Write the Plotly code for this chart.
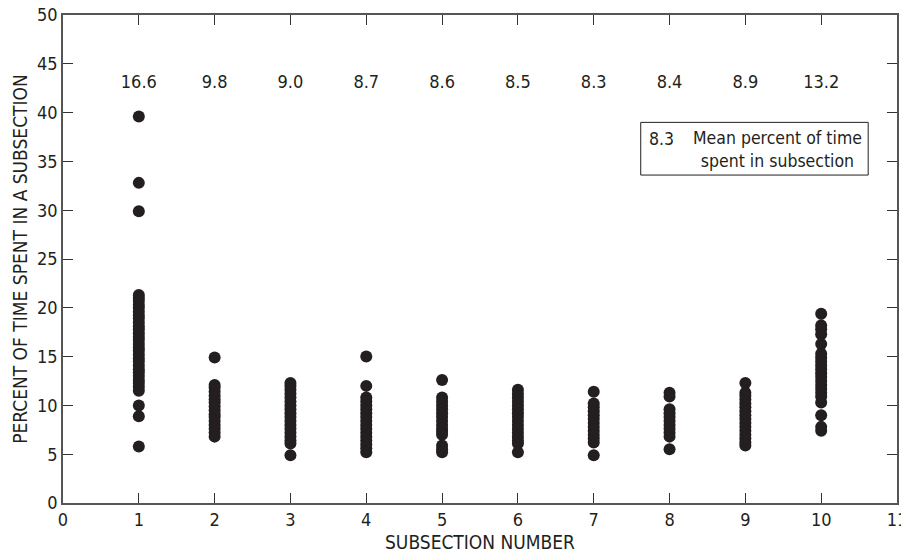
import plotly.graph_objects as go

# ---- data ----
subsections = [1, 2, 3, 4, 5, 6, 7, 8, 9, 10]
pct_s1 = [39.6, 32.8, 29.9, 21.3, 21.0, 20.7, 20.3, 20.0, 19.6, 19.2, 18.9, 18.5, 18.1,
          17.8, 17.4, 17.0, 16.7, 16.3, 15.9, 15.6, 15.2, 14.8, 14.5, 14.1, 13.7, 13.4,
          13.0, 12.6, 12.3, 11.9, 11.5, 10.0, 8.9, 5.8]
pct_s2 = [14.9, 12.1, 11.8, 11.4, 11.0, 10.6, 10.3, 9.9, 9.5, 9.1, 8.8, 8.4, 8.0, 7.6, 7.2, 6.8]
pct_s3 = [12.3, 12.0, 11.6, 11.2, 10.8, 10.4, 10.0, 9.6, 9.2, 8.8, 8.4, 8.0, 7.6, 7.2, 6.8,
          6.4, 6.1, 4.9]
pct_s4 = [15.0, 12.0, 10.8, 10.4, 10.0, 9.6, 9.2, 8.8, 8.4, 8.0, 7.6, 7.2, 6.8, 6.4, 6.0, 5.6, 5.2]
pct_s5 = [12.6, 10.8, 10.4, 10.0, 9.6, 9.2, 8.8, 8.4, 8.0, 7.6, 7.3, 7.0, 5.9, 5.5, 5.2]
pct_s6 = [11.6, 11.2, 10.8, 10.4, 10.0, 9.6, 9.2, 8.8, 8.4, 8.0, 7.6, 7.2, 6.8, 6.4, 6.1, 5.2]
pct_s7 = [11.4, 10.2, 9.8, 9.4, 9.0, 8.6, 8.2, 7.8, 7.4, 7.0, 6.6, 6.2, 4.9]
pct_s8 = [11.3, 10.9, 9.6, 9.2, 8.8, 8.4, 8.0, 7.6, 7.2, 6.8, 5.5]
pct_s9 = [12.3, 11.3, 11.0, 10.6, 10.2, 9.8, 9.4, 9.0, 8.6, 8.2, 7.8, 7.4, 7.0, 6.6, 6.2, 5.9]
pct_s10 = [19.4, 18.2, 17.8, 17.3, 16.3, 15.3, 14.9, 14.5, 14.1, 13.7, 13.3, 12.9, 12.5,
           12.1, 11.7, 11.3, 10.9, 10.3, 9.0, 7.8, 7.4]
mean_labels = ["16.6", "9.8", "9.0", "8.7", "8.6", "8.5", "8.3", "8.4", "8.9", "13.2"]
x_ticks = [0, 1, 2, 3, 4, 5, 6, 7, 8, 9, 10, 11]
y_ticks = [0, 5, 10, 15, 20, 25, 30, 35, 40, 45, 50]

columns = [pct_s1, pct_s2, pct_s3, pct_s4, pct_s5, pct_s6, pct_s7, pct_s8, pct_s9, pct_s10]
xs, ys = [], []
for s, col in zip(subsections, columns):
    xs.extend([s] * len(col))
    ys.extend(col)

FONT = "Liberation Sans Narrow, DejaVu Sans Condensed, Roboto Condensed, Arial Narrow, sans-serif"
INK = "#231f20"

fig = go.Figure()
fig.add_trace(go.Scatter(
    x=xs, y=ys, mode="markers",
    marker=dict(size=12, color=INK, line=dict(width=0)),
    hoverinfo="x+y", showlegend=False))
fig.add_trace(go.Scatter(
    x=subsections, y=[43.0] * len(subsections), mode="text", text=mean_labels,
    textposition="middle center", textfont=dict(family=FONT, size=18, color=INK),
    hoverinfo="skip", showlegend=False))

# legend box (explanation)
fig.add_shape(type="rect", xref="x", yref="y", x0=7.62, x1=10.62, y0=33.6, y1=39.0,
              line=dict(color=INK, width=1), fillcolor="white", layer="below")
fig.add_annotation(x=7.70, y=37.3, xref="x", yref="y", text="8.3", showarrow=False,
                   xanchor="left", yanchor="middle", font=dict(family=FONT, size=17.5, color=INK))
fig.add_annotation(x=9.42, y=36.25, xref="x", yref="y",
                   text="Mean percent of time<br>spent in subsection", showarrow=False,
                   xanchor="center", yanchor="middle", align="center",
                   font=dict(family=FONT, size=17.5, color=INK))

axis_common = dict(showline=True, linecolor="#555", linewidth=1.5, mirror="ticks",
                   ticks="inside", ticklen=10, tickcolor="#333", tickwidth=1.2,
                   showgrid=False, zeroline=False, ticklabeloverflow="allow",
                   automargin=False,
                   tickfont=dict(family=FONT, size=18, color=INK))
fig.update_xaxes(range=[0, 11], tickmode="array", tickvals=x_ticks,
                 ticktext=[str(v) for v in x_ticks],
                 title=dict(text="SUBSECTION NUMBER", font=dict(family=FONT, size=19, color=INK),
                            standoff=6),
                 **axis_common)
fig.update_yaxes(range=[0, 50], tickmode="array", tickvals=y_ticks,
                 ticktext=[str(v) for v in y_ticks],
                 title=dict(text="PERCENT OF TIME SPENT IN A SUBSECTION",
                            font=dict(family=FONT, size=19, color=INK), standoff=4),
                 **axis_common)

fig.update_layout(width=901, height=556, margin=dict(l=63, r=4, t=15, b=53),
                  paper_bgcolor="white", plot_bgcolor="white",
                  font=dict(family=FONT, size=18, color=INK))

fig.write_html("out.html")
